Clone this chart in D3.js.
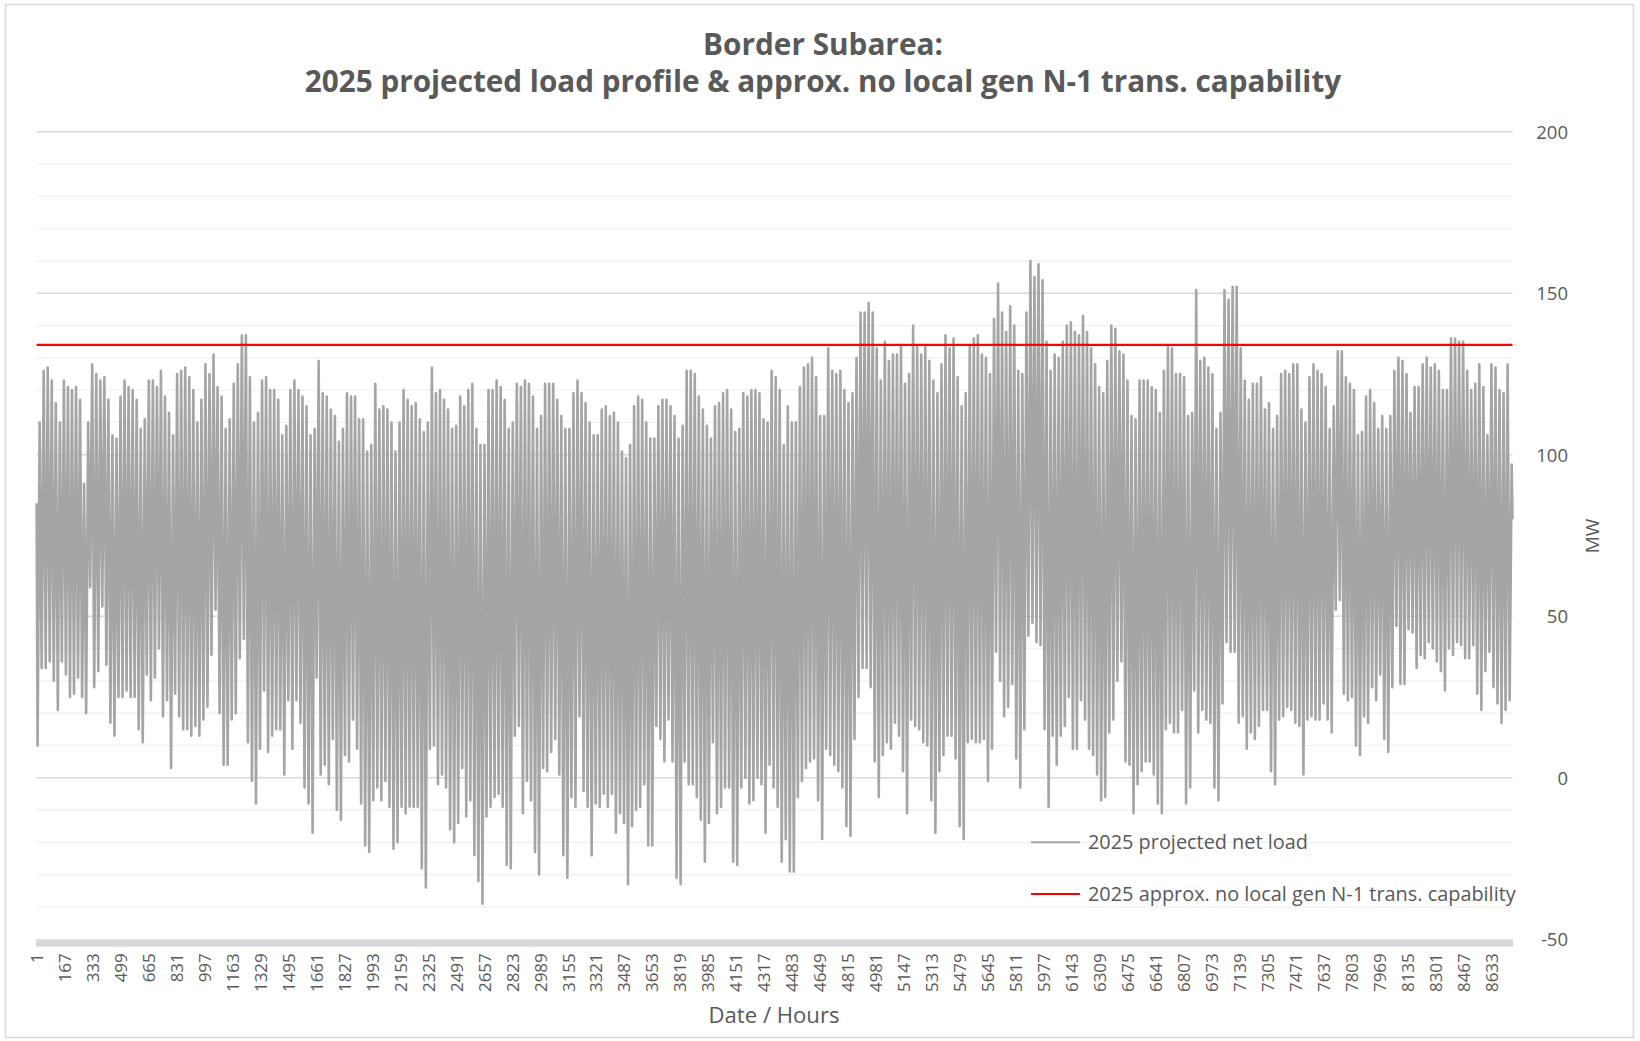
<!DOCTYPE html>
<html>
<head>
<meta charset="utf-8">
<script src="https://cdn.jsdelivr.net/npm/d3@7"></script>
<style>
  html, body { margin: 0; padding: 0; background: #ffffff; }
  svg { display: block; }
</style>
</head>
<body>
<svg id="chart" width="1640" height="1041"></svg>
<script>
// ---------------- DATA ----------------
const titleLines = ["Border Subarea:", "2025 projected load profile & approx. no local gen N-1 trans. capability"];
const xAxisTitle = "Date / Hours";
const yAxisTitle = "MW";
const seriesNames = ["2025 projected net load", "2025 approx. no local gen N-1 trans. capability"];

// hour labels on the category axis
const hourTicks = [1,167,333,499,665,831,997,1163,1329,1495,1661,1827,1993,2159,2325,2491,2657,2823,2989,3155,3321,3487,3653,3819,3985,4151,4317,4483,4649,4815,4981,5147,5313,5479,5645,5811,5977,6143,6309,6475,6641,6807,6973,7139,7305,7471,7637,7803,7969,8135,8301,8467,8633];
const yTicks = [-50, 0, 50, 100, 150, 200];

// N-1 transmission capability (MW)
const capabilityMW = 134;

// first / last hour of the net load series (MW)
const startLoad = 85;
const endLoad = 80;

// daily peak of the net load (MW), day 1 .. day 365
const dailyPeak = [
  110,126,127,123,116,110,123,121,120,121,117,91,110,128,125,123,124,117,106,105,118,123,121,120,117,108,111,123,123,121,126,118,113,106,125,126,127,124,120,110,117,128,125,131,121,
  118,108,111,122,128,137,137,124,110,113,123,124,120,120,117,106,109,120,123,120,118,115,106,108,129,119,118,114,112,104,108,119,118,118,111,111,101,103,122,114,115,114,110,101,110,
  120,117,115,116,111,107,110,127,119,120,117,114,108,109,118,115,120,122,108,103,103,120,120,123,121,117,108,110,122,121,123,122,118,108,112,122,122,122,117,112,108,108,119,123,
  119,116,110,106,106,114,115,112,113,110,101,99,103,115,118,117,110,105,105,115,117,117,115,112,105,109,126,126,125,118,114,109,105,115,116,119,120,114,107,108,119,118,120,120,119,
  111,110,126,124,120,103,115,110,110,121,127,128,130,124,112,112,133,126,125,126,120,116,119,130,144,144,147,144,133,123,135,129,131,131,134,122,125,140,134,131,134,129,123,119,
  128,137,133,136,124,115,119,134,136,137,131,130,125,142,153,144,138,146,140,126,125,144,160,155,159,154,135,126,131,130,135,140,141,138,137,143,138,133,128,121,119,129,140,139,132,
  131,123,112,111,123,123,123,121,120,113,126,134,133,125,125,124,112,113,151,129,130,127,125,108,113,151,148,152,152,133,123,117,122,122,124,114,116,108,112,125,126,125,128,128,
  114,110,124,128,126,125,121,108,115,132,132,124,122,120,106,107,118,120,116,108,112,108,112,126,130,129,125,113,121,121,128,130,127,128,126,120,120,136,136,135,135,126,120,122,128,121,106,128,127,120,119,128,97
];

// daily minimum of the net load (MW), day 1 .. day 365
const dailyLow = [
  10,34,34,36,30,21,36,32,25,26,31,25,20,59,28,33,53,35,17,13,25,25,27,25,25,15,11,32,24,31,40,19,24,3,26,19,15,15,13,16,13,18,22,38,52,
  20,4,4,18,20,37,43,11,-1,-8,9,27,8,13,15,15,1,24,9,24,17,-3,-8,-17,31,1,4,-2,12,-10,-13,7,5,18,9,-8,-21,-23,-7,-3,-7,-1,-9,-22,-20,
  -9,-11,-9,-9,-9,-28,-34,9,10,-2,1,-3,-16,-20,-14,3,-12,-7,-24,-32,-39,-12,-9,-6,-5,-9,-27,-28,13,16,-11,-1,-7,-23,-30,3,2,8,12,1,-24,-31,-6,-9,19,
  -4,-9,-24,-8,-9,-5,-9,-5,-17,-11,-14,-33,-15,-10,-9,-2,-21,-21,16,12,5,18,5,-31,-33,5,-2,-2,-6,-13,-26,-14,11,-11,-9,-3,-3,-26,-27,-3,0,-8,-7,0,
  -2,-17,4,-3,-9,-26,-19,-29,-29,-6,-1,3,5,6,-7,-19,9,7,4,2,-3,-15,-18,12,25,34,34,28,5,-6,7,11,9,17,13,2,-11,18,16,15,11,10,-7,-17,2,
  7,13,13,6,-15,-19,11,12,11,11,12,-1,9,39,30,19,22,29,6,-3,15,44,48,42,41,15,-9,13,4,13,16,25,9,9,24,18,9,7,1,-7,-6,14,18,30,
  36,5,4,-11,-2,2,5,5,1,-8,-11,15,17,14,14,21,-8,-3,27,14,21,18,17,-3,-7,23,42,39,39,17,19,9,14,12,16,21,21,2,-2,18,19,22,21,17,16,
  1,18,19,18,18,23,18,14,52,55,26,24,25,10,7,19,17,28,24,32,12,8,28,47,29,29,46,45,34,38,37,42,40,36,33,27,40,38,42,41,37,37,41,26,21,33,39,28,23,17,21,24
];

// ---------------- CHART ----------------
const svg = d3.select("#chart");
const FONT = "'Open Sans', 'Noto Sans', sans-serif";
const TXT = "#595959";

const plot = { left: 36.6, right: 1512.5, top: 131.8, bottom: 939.2 };

const x = d3.scaleLinear().domain([1, 8760]).range([plot.left, plot.right]);
const y = d3.scaleLinear().domain([-50, 200]).range([plot.bottom, plot.top]);

// outer chart border
svg.append("rect")
  .attr("x", 5.5).attr("y", 4.5).attr("width", 1628).attr("height", 1033)
  .attr("fill", "none").attr("stroke", "#d9d9d9").attr("stroke-width", 1.5);

// gridlines: minor every 10, major every 50
const minorVals = d3.range(-40, 201, 10).filter(v => v % 50 !== 0);
const majorVals = yTicks.filter(v => v > -50);
const grid = svg.append("g");
grid.selectAll("line.minor").data(minorVals).join("line")
  .attr("class", "minor")
  .attr("x1", plot.left).attr("x2", plot.right)
  .attr("y1", d => y(d)).attr("y2", d => y(d))
  .attr("stroke", "#f0f0f0").attr("stroke-width", 1.3);
grid.selectAll("line.major").data(majorVals).join("line")
  .attr("class", "major")
  .attr("x1", plot.left).attr("x2", plot.right)
  .attr("y1", d => y(d)).attr("y2", d => y(d))
  .attr("stroke", "#d9d9d9").attr("stroke-width", 1.5);

// net load series: one daily trough and one daily peak
const loadPoints = [[1, startLoad]];
dailyLow.forEach((v, d) => {
  loadPoints.push([d * 24 + 7, v]);
  loadPoints.push([d * 24 + 19, dailyPeak[d]]);
});
loadPoints.push([8760, endLoad]);

const line = d3.line().x(d => x(d[0])).y(d => y(d[1]));
svg.append("path")
  .datum(loadPoints)
  .attr("d", line)
  .attr("fill", "none")
  .attr("stroke", "#a5a5a5")
  .attr("stroke-width", 2.6)
  .attr("stroke-linejoin", "round");

// capability line
svg.append("path")
  .datum([[1, capabilityMW], [8760, capabilityMW]])
  .attr("d", line)
  .attr("fill", "none")
  .attr("stroke", "#ff0000")
  .attr("stroke-width", 2.2);

// thick category-tick bar along the bottom (dense tick marks)
svg.append("rect")
  .attr("x", plot.left - 0.5).attr("y", y(-50))
  .attr("width", plot.right - plot.left + 1).attr("height", 7.5)
  .attr("fill", "#d9d9d9");

// x tick labels (rotated)
const xAxis = d3.axisBottom(x).tickValues(hourTicks).tickSize(0).tickFormat(d => String(d));
const gx = svg.append("g").attr("transform", `translate(0, ${y(-50)})`).call(xAxis);
gx.select(".domain").remove();
gx.selectAll("text")
  .attr("font-family", FONT).attr("font-size", 17).attr("fill", TXT)
  .attr("text-anchor", "end")
  .attr("dy", "0.35em")
  .attr("transform", "translate(0, 14) rotate(-90)")
  .attr("x", 0).attr("y", 0);

// y tick labels on the right
const yAxis = d3.axisRight(y).tickValues(yTicks).tickSize(0).tickFormat(d => String(d));
const gy = svg.append("g").attr("transform", `translate(1568, 0)`).call(yAxis);
gy.select(".domain").remove();
gy.selectAll("text")
  .attr("font-family", FONT).attr("font-size", 18.5).attr("fill", TXT)
  .attr("text-anchor", "end").attr("x", 0).attr("dy", "0.35em");

function fitWidth(sel, target) {
  const w = sel.node().getComputedTextLength();
  const fs = parseFloat(sel.attr("font-size"));
  sel.attr("font-size", fs * target / w);
}

// axis titles
const xt = svg.append("text")
  .attr("x", 774).attr("y", 1023)
  .attr("text-anchor", "middle")
  .attr("font-family", FONT).attr("font-size", 20).attr("fill", TXT)
  .text(xAxisTitle);
fitWidth(xt, 131);

svg.append("text")
  .attr("transform", "translate(1599, 536) rotate(-90)")
  .attr("text-anchor", "middle")
  .attr("font-family", FONT).attr("font-size", 19).attr("fill", TXT)
  .text(yAxisTitle);

// title
const t1 = svg.append("text")
  .attr("x", 823).attr("y", 55)
  .attr("text-anchor", "middle")
  .attr("font-family", FONT).attr("font-weight", "bold").attr("font-size", 26).attr("fill", TXT)
  .text(titleLines[0]);
fitWidth(t1, 240);
const t2 = svg.append("text")
  .attr("x", 823).attr("y", 92)
  .attr("text-anchor", "middle")
  .attr("font-family", FONT).attr("font-weight", "bold").attr("font-size", 26).attr("fill", TXT)
  .text(titleLines[1]);
fitWidth(t2, 1037);

// legend
const legendColors = ["#a5a5a5", "#ff0000"];
const legendY = [y(-20), y(-36)];
const legendWidths = [220, 428];
seriesNames.forEach((name, i) => {
  svg.append("line")
    .attr("x1", 1031).attr("x2", 1080)
    .attr("y1", legendY[i]).attr("y2", legendY[i])
    .attr("stroke", legendColors[i]).attr("stroke-width", i === 0 ? 1.9 : 2.2);
  const lt = svg.append("text")
    .attr("x", 1088).attr("y", legendY[i]).attr("dy", "0.35em")
    .attr("font-family", FONT).attr("font-size", 18).attr("fill", TXT)
    .text(name);
  fitWidth(lt, legendWidths[i]);
});
</script>
</body>
</html>
